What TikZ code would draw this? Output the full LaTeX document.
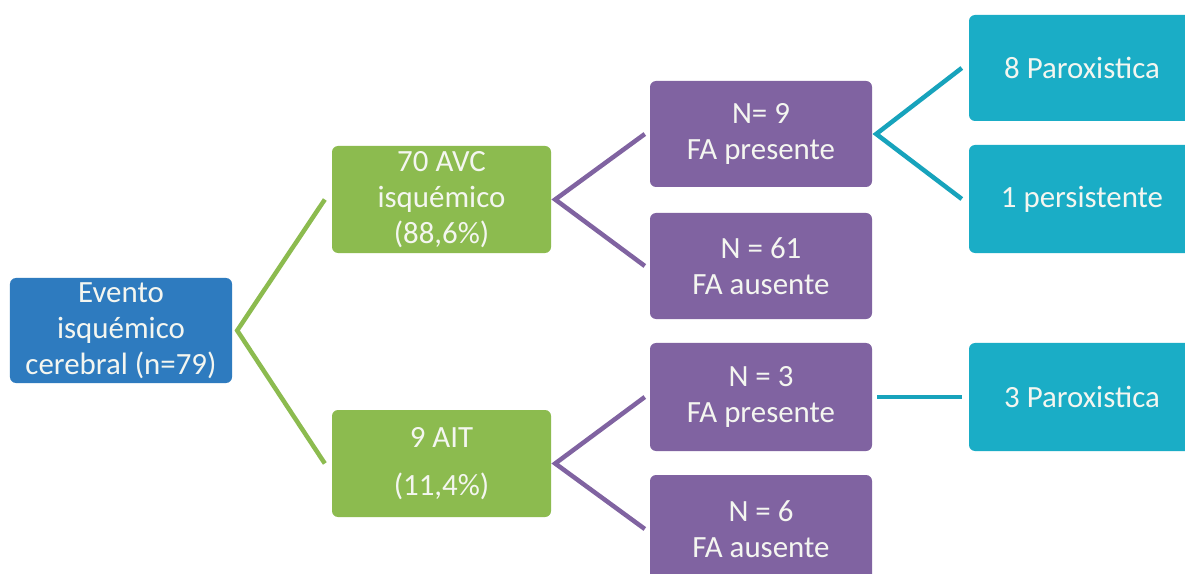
\documentclass[tikz,border=0pt]{standalone}
\usepackage{fontspec}
\setmainfont{Carlito}
\definecolor{cblue}{HTML}{2E7BBF}
\definecolor{cgreen}{HTML}{8CBB4F}
\definecolor{cpurple}{HTML}{8063A1}
\definecolor{cteal}{HTML}{1AADC6}
\definecolor{lteal}{HTML}{17A3BC}
\definecolor{ctext}{HTML}{F4F6F0}
\begin{document}
\begin{tikzpicture}[x=1bp,y=-1bp,
  box/.style={rounded corners=6bp, text=ctext, align=center, inner sep=0pt,
    font=\fontsize{31}{36}\selectfont},
  bluebox/.style={box, fill=cblue, minimum width=222bp, minimum height=105bp},
  greenbox/.style={box, fill=cgreen, minimum width=219bp, minimum height=107bp},
  purplebox/.style={box, fill=cpurple, minimum width=222bp, minimum height=106bp},
  tealbox/.style={box, fill=cteal, minimum width=226bp, minimum height=106bp},
  gline/.style={draw=cgreen, line width=4.5bp},
  pline/.style={draw=cpurple, line width=4.5bp},
  tline/.style={draw=lteal, line width=4.5bp}]
\useasboundingbox (0,0) rectangle (1185,574);
\clip (0,0) rectangle (1185,574);
\fill[white] (0,0) rectangle (1185,574);

\node[bluebox] (ev) at (121,330.5) {Evento\\isquémico\\cerebral (n=79)};
\node[greenbox] (avc) at (441.5,199.5) {70 AVC\\isquémico\\(88,6\%)};
\node[greenbox] (ait) at (441.5,463.5) {9 AIT\\[12bp](11,4\%)};
\node[purplebox] (n9) at (761,134) {N= 9\\FA presente};
\node[purplebox] (n61) at (761,266) {N = 61\\FA ausente};
\node[purplebox, minimum height=108bp] (n3) at (761,397) {N = 3\\FA presente};
\node[purplebox, minimum height=108bp] (n6) at (761,529) {N = 6\\FA ausente};
\node[tealbox] (p8) at (1082,68) {8 Paroxistica};
\node[tealbox, minimum height=108bp] (p1) at (1082,199) {1 persistente};
\node[tealbox, minimum height=108bp] (p3) at (1082,397) {3 Paroxistica};

\draw[gline] ([xshift=-7bp]avc.west) -- ([xshift=5bp]ev.east) -- ([xshift=-7bp]ait.west);
\draw[pline] ([xshift=-5bp]n9.west) -- ([xshift=4bp]avc.east) -- ([xshift=-5bp]n61.west);
\draw[pline] ([xshift=-5bp]n3.west) -- ([xshift=4bp]ait.east) -- ([xshift=-5bp]n6.west);
\draw[tline] ([xshift=-7bp]p8.west) -- ([xshift=4bp]n9.east) -- ([xshift=-7bp]p1.west);
\draw[tline] ([xshift=5bp]n3.east) -- ([xshift=-7bp]p3.west);
\end{tikzpicture}
\end{document}
